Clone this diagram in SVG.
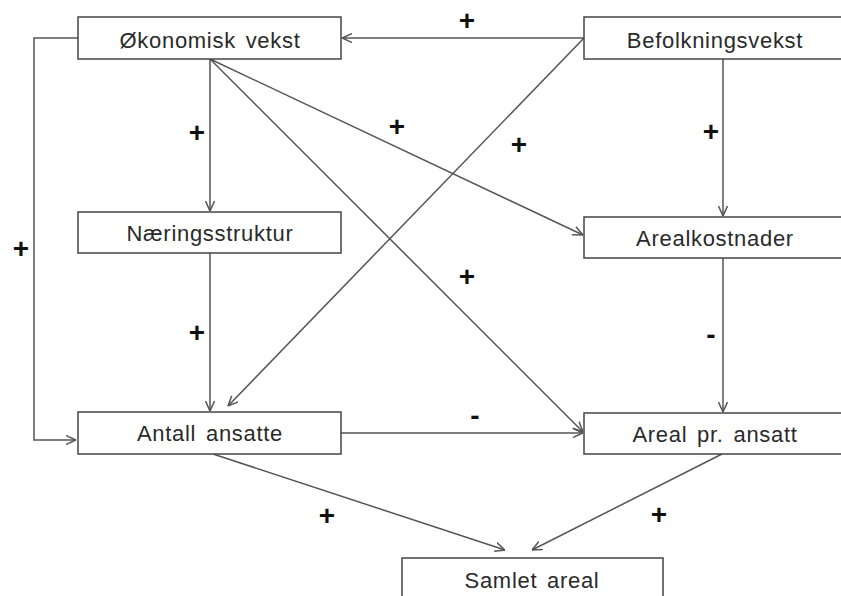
<svg xmlns="http://www.w3.org/2000/svg" width="841" height="596" viewBox="0 0 841 596">
<style>
.box{fill:#fff;stroke:#444;stroke-width:1.5}
.lbl{font-family:"Liberation Sans",Arial,sans-serif;font-size:22px;letter-spacing:0.7px;word-spacing:3px;fill:#2a2a2a;text-anchor:middle}
.sign{font-family:"Liberation Sans",Arial,sans-serif;font-size:28px;font-weight:bold;fill:#111;text-anchor:middle}
.c{fill:none;stroke:#555;stroke-width:1.5}
</style>
<defs>
<marker id="ah" viewBox="0 0 10 10" refX="10" refY="5" markerWidth="10" markerHeight="10" markerUnits="userSpaceOnUse" orient="auto">
<path d="M0,0.5 L10,5 L0,9.5" fill="none" stroke="#555" stroke-width="1.5"/>
</marker>
</defs>
<rect width="841" height="596" fill="#fff"/>
<g id="connectors">
<path class="c" d="M584,38 L342,38" marker-end="url(#ah)"/>
<path class="c" d="M78,38 L34,38 L34,440 L76,440" marker-end="url(#ah)"/>
<path class="c" d="M210,59 L210,211" marker-end="url(#ah)"/>
<path class="c" d="M210,59 L583,235" marker-end="url(#ah)"/>
<path class="c" d="M210,59 L583,432" marker-end="url(#ah)"/>
<path class="c" d="M584,38 L228,406" marker-end="url(#ah)"/>
<path class="c" d="M723,59 L723,216" marker-end="url(#ah)"/>
<path class="c" d="M210,253 L210,411" marker-end="url(#ah)"/>
<path class="c" d="M723,258 L723,412" marker-end="url(#ah)"/>
<path class="c" d="M341,433 L583,433" marker-end="url(#ah)"/>
<path class="c" d="M213,454 L505,550" marker-end="url(#ah)"/>
<path class="c" d="M722,454 L532,550" marker-end="url(#ah)"/>
</g>
<g id="labels">
<text class="sign" x="467" y="30">+</text>
<text class="sign" x="197" y="142">+</text>
<text class="sign" x="397" y="136">+</text>
<text class="sign" x="519" y="154">+</text>
<text class="sign" x="711" y="141">+</text>
<text class="sign" x="21" y="258">+</text>
<text class="sign" x="197" y="342">+</text>
<text class="sign" x="467" y="286">+</text>
<text class="sign" x="711" y="344">-</text>
<text class="sign" x="475" y="425">-</text>
<text class="sign" x="327" y="525">+</text>
<text class="sign" x="659" y="524">+</text>
</g>
<g id="n1"><rect class="box" x="78" y="17" width="263" height="42"/><text class="lbl" x="210" y="48">Økonomisk vekst</text></g>
<g id="n2"><rect class="box" x="584" y="17" width="263" height="42"/><text class="lbl" x="715" y="48">Befolkningsvekst</text></g>
<g id="n3"><rect class="box" x="78" y="212" width="263" height="41"/><text class="lbl" x="210" y="241">Næringsstruktur</text></g>
<g id="n4"><rect class="box" x="584" y="217" width="263" height="41"/><text class="lbl" x="715" y="246">Arealkostnader</text></g>
<g id="n5"><rect class="box" x="78" y="412" width="263" height="42"/><text class="lbl" x="210" y="441">Antall ansatte</text></g>
<g id="n6"><rect class="box" x="584" y="413" width="263" height="41"/><text class="lbl" x="715" y="442">Areal pr. ansatt</text></g>
<g id="n7"><rect class="box" x="402" y="558" width="261" height="50"/><text class="lbl" x="532" y="588">Samlet areal</text></g>
</svg>
